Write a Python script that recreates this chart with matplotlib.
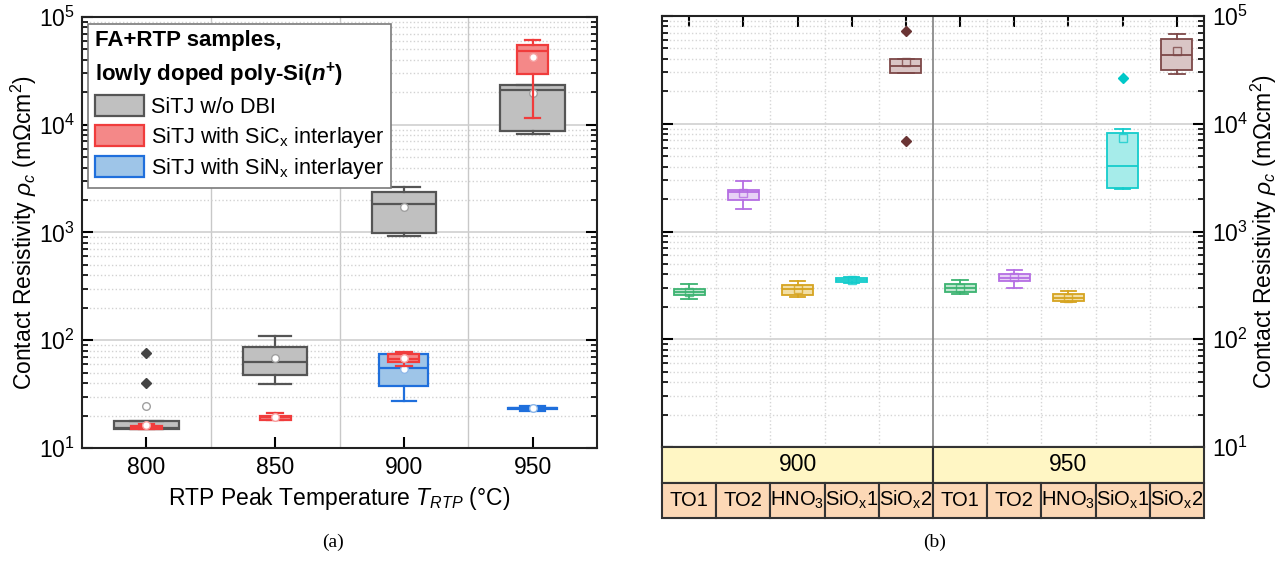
import matplotlib
matplotlib.use("Agg")
import matplotlib.pyplot as plt
import matplotlib.patches as mpatches
from matplotlib.ticker import LogLocator, NullFormatter

plt.rcParams['font.family'] = ['Liberation Sans', 'DejaVu Sans']
plt.rcParams['mathtext.fontset'] = 'custom'
plt.rcParams['mathtext.rm'] = 'Liberation Sans'
plt.rcParams['mathtext.it'] = 'Liberation Sans:italic'
plt.rcParams['mathtext.bf'] = 'Liberation Sans:bold'
plt.rcParams['mathtext.bfit'] = 'Liberation Sans:italic:bold'

# ---------------- data, panel (a) ----------------
temps = [800, 850, 900, 950]

# SiTJ w/o DBI
ref_q1 = [15.1, 47.9, 995, 8670]
ref_med = [15.4, 62.8, 1830, 20900]
ref_q3 = [17.8, 86, 2380, 23550]
ref_lo = [15.1, 39.5, 928, 8140]
ref_hi = [17.8, 109, 2620, 23550]
ref_mean = [24.3, 68, 1725, 19600]
ref_out = [[39.8, 76], [], [], []]

# SiTJ with SiCx interlayer
sic_q1 = [15.0, 18.2, 62.4, 29400]
sic_med = [15.7, 19.3, 67, 48300]
sic_q3 = [16.0, 20.0, 75, 55300]
sic_lo = [15.0, 18.2, 58, 11550]
sic_hi = [16.6, 21.0, 78, 61100]
sic_mean = [16.2, 19.2, 69, 42300]

# SiTJ with SiNx interlayer
sin_temps = [900, 950]
sin_q1 = [37.6, 22.9]
sin_med = [55.3, 23.3]
sin_q3 = [74, 23.7]
sin_lo = [27.1, 22.2]
sin_hi = [75, 24.7]
sin_mean = [54, 23.3]

# ---------------- data, panel (b) ----------------
groups = ["900", "950"]
treatments = ["TO1", "TO2", "HNO$_3$", r"SiO$_\mathrm{x}$1", r"SiO$_\mathrm{x}$2"]
b_q1 = [257, 1950, 259, 338, 29800, 276, 345, 225, 2530, 31700]
b_med = [275, 2340, 291, 354, 34400, 300, 373, 241, 4030, 43800]
b_q3 = [294, 2440, 319, 370, 39900, 326, 406, 261, 8260, 60800]
b_lo = [236, 1630, 247, 333, 29800, 261, 301, 220, 2470, 28950]
b_hi = [326, 2960, 347, 375, 39900, 352, 440, 282, 8930, 68100]
b_mean = [277, 2300, 290, 354, 37200, 300, 375, 241, 7380, 47000]
b_out = [[], [], [], [], [6920, 72100], [], [], [], [26600], []]

edge_cols = ["#3cb371", "#b56ee3", "#d6a420", "#14cccc", "#7d4848"]
face_cols = ["#bfe6cf", "#e7d2f6", "#f2dfa6", "#a6ecea", "#d9c5c5"]
flier_cols = ["#3cb371", "#b56ee3", "#d6a420", "#00c8c8", "#6a3434"]


def make_stats(q1, med, q3, lo, hi, mean, out=None):
    stats = []
    for i in range(len(q1)):
        stats.append(dict(q1=q1[i], med=med[i], q3=q3[i], whislo=lo[i],
                          whishi=hi[i], mean=mean[i],
                          fliers=out[i] if out else []))
    return stats


def draw_boxes(ax, stats, pos, width, edge, face, lw, z, meanmarker, meanedge,
               flier='#444444'):
    return ax.bxp(stats, positions=pos, widths=width, capwidths=width * 0.5,
                  patch_artist=True, showmeans=True, manage_ticks=False, zorder=z,
                  boxprops=dict(facecolor=face, edgecolor=edge, linewidth=lw),
                  medianprops=dict(color=edge, linewidth=lw),
                  whiskerprops=dict(color=edge, linewidth=lw),
                  capprops=dict(color=edge, linewidth=lw),
                  meanprops=dict(marker=meanmarker, markerfacecolor='white',
                                 markeredgecolor=meanedge, markersize=5.5,
                                 markeredgewidth=1.0),
                  flierprops=dict(marker='D', markerfacecolor=flier,
                                  markeredgecolor=flier, markersize=5.5))


fig = plt.figure(figsize=(12.8, 5.63), dpi=100)
ax1 = fig.add_axes([0.0641, 0.2043, 0.4023, 0.7655])
ax2 = fig.add_axes([0.5172, 0.2060, 0.4234, 0.7655])
tax = fig.add_axes([0.5172, 0.0799, 0.4234, 0.1261])

tick_fs = 16.5

# ---------------- panel (a) ----------------
ax1.set_yscale('log')
draw_boxes(ax1, make_stats(ref_q1, ref_med, ref_q3, ref_lo, ref_hi, ref_mean, ref_out),
           temps, 25, '#555555', '#c0c0c0', 1.6, 2, 'o', '#a0a0a0')
draw_boxes(ax1, make_stats(sin_q1, sin_med, sin_q3, sin_lo, sin_hi, sin_mean),
           sin_temps, 19, '#1f6fdc', '#9ec5e8', 1.6, 3, 'o', '#8fb8e8')
draw_boxes(ax1, make_stats(sic_q1, sic_med, sic_q3, sic_lo, sic_hi, sic_mean),
           temps, 12, '#f03c3c', '#f48888', 1.6, 4, 'o', '#f6a0a0')

ax1.set_xlim(775, 975)
ax1.set_ylim(10, 1e5)
ax1.set_xticks(temps)
ax1.set_xticks([825, 875, 925], minor=True)
ax1.yaxis.set_minor_locator(LogLocator(base=10, subs=range(2, 10)))
ax1.yaxis.set_minor_formatter(NullFormatter())
ax1.set_axisbelow(True)
ax1.yaxis.grid(True, which='major', color='#cfcfcf', lw=1.2, ls='-')
ax1.yaxis.grid(True, which='minor', color='#d2d2d2', lw=1.0, ls=':')
ax1.xaxis.grid(True, which='minor', color='#c8c8c8', lw=1.0, ls='-')
ax1.tick_params(axis='x', which='minor', length=0)
ax1.tick_params(axis='x', which='major', direction='in', length=8, width=1.5,
                labelsize=tick_fs, pad=6)
ax1.tick_params(axis='y', which='both', direction='in', left=True, right=True,
                labelsize=tick_fs, pad=5)
ax1.tick_params(axis='y', which='major', length=8, width=1.5)
ax1.tick_params(axis='y', which='minor', length=4.5, width=1.2)
for s in ax1.spines.values():
    s.set_linewidth(1.5)
    s.set_color('#222222')
ax1.set_xlabel(r"RTP Peak Temperature $T_{RTP}$ (°C)", fontsize=tick_fs, labelpad=4)
ax1.set_ylabel(r"Contact Resistivity $\rho_c$ (m$\Omega$cm$^2$)", fontsize=tick_fs,
               labelpad=0)

handles = [
    mpatches.Patch(facecolor='#c0c0c0', edgecolor='#555555', lw=1.6, label="SiTJ w/o DBI"),
    mpatches.Patch(facecolor='#f48888', edgecolor='#f03c3c', lw=1.6,
                   label=r"SiTJ with SiC$_\mathrm{x}$ interlayer"),
    mpatches.Patch(facecolor='#9ec5e8', edgecolor='#1f6fdc', lw=1.6,
                   label=r"SiTJ with SiN$_\mathrm{x}$ interlayer"),
]
leg = ax1.legend(handles=handles, loc='upper left', bbox_to_anchor=(0.0117, 0.984),
                 borderaxespad=0, fontsize=15.6, handlelength=2.3, handleheight=1.1,
                 labelspacing=0.3, handletextpad=0.3, borderpad=0.3,
                 fancybox=False, framealpha=1, edgecolor='#7a7a7a',
                 title="FA+RTP samples,\nlowly doped poly-Si($\\mathbfit{n}^{\\mathbf{+}}$)",
                 title_fontproperties=dict(weight='bold', size=16),
                 alignment='left')
leg.get_frame().set_linewidth(1.2)
leg.get_title().set_linespacing(1.45)
leg.set_zorder(10)

# ---------------- panel (b) ----------------
ax2.set_yscale('log')
n_tr = len(treatments)
for i in range(len(b_q1)):
    k = i % n_tr
    st = make_stats(b_q1[i:i + 1], b_med[i:i + 1], b_q3[i:i + 1], b_lo[i:i + 1],
                    b_hi[i:i + 1], b_mean[i:i + 1], b_out[i:i + 1])
    res = draw_boxes(ax2, st, [i + 1], 0.57, edge_cols[k], face_cols[k], 1.3, 3, 's',
                     edge_cols[k], flier=flier_cols[k])
    for m in res['means']:
        m.set_markerfacecolor('none')
        m.set_alpha(0.8)

ax2.set_xlim(0.5, len(b_q1) + 0.5)
ax2.set_ylim(10, 1e5)
ax2.set_xticks(range(1, len(b_q1) + 1))
ax2.set_xticks([j + 0.5 for j in range(1, len(b_q1)) if j != n_tr], minor=True)
ax2.yaxis.set_minor_locator(LogLocator(base=10, subs=range(2, 10)))
ax2.yaxis.set_minor_formatter(NullFormatter())
ax2.set_axisbelow(True)
ax2.yaxis.grid(True, which='major', color='#cfcfcf', lw=1.2, ls='-')
ax2.yaxis.grid(True, which='minor', color='#d6d6d6', lw=1.0, ls=':')
ax2.xaxis.grid(True, which='minor', color='#d6d6d6', lw=1.0, ls=':')
ax2.axvline(n_tr + 0.5, color='#8a8a8a', lw=1.3, zorder=1)
ax2.tick_params(axis='x', which='minor', length=0, bottom=False, top=False)
ax2.tick_params(axis='x', which='major', direction='in', length=8, width=1.5,
                top=True, bottom=False, labelbottom=False, labeltop=False)
ax2.yaxis.tick_right()
ax2.yaxis.set_label_position('right')
ax2.tick_params(axis='y', which='both', direction='in', left=True, right=True,
                labelleft=False, labelright=True, labelsize=tick_fs, pad=6)
ax2.tick_params(axis='y', which='major', length=8, width=1.5)
ax2.tick_params(axis='y', which='minor', length=4.5, width=1.2)
for s in ax2.spines.values():
    s.set_linewidth(1.5)
    s.set_color('#222222')
ax2.set_ylabel(r"Contact Resistivity $\rho_c$ (m$\Omega$cm$^2$)", fontsize=tick_fs)
ax2.yaxis.set_label_coords(1.083, 0.5)

# category table below panel (b)
tax.set_xlim(0.5, len(b_q1) + 0.5)
tax.set_ylim(0, 2)
tax.axis('off')
for g, name in enumerate(groups):
    x0 = g * n_tr + 0.5
    tax.add_patch(mpatches.Rectangle((x0, 1), n_tr, 1, facecolor='#fff6c4',
                                     edgecolor='#333333', lw=1.5, clip_on=False))
    tax.text(x0 + n_tr / 2, 1.5, name, ha='center', va='center', fontsize=tick_fs)
    for k, tr in enumerate(treatments):
        xc = g * n_tr + k + 1
        tax.add_patch(mpatches.Rectangle((xc - 0.5, 0), 1, 1, facecolor='#fcd8b6',
                                         edgecolor='#333333', lw=1.5, clip_on=False))
        tax.text(xc, 0.5, tr, ha='center', va='center', fontsize=14.5)

fig.text(0.260, 0.028, "(a)", family='Liberation Serif', fontsize=14, ha='center')
fig.text(0.730, 0.028, "(b)", family='Liberation Serif', fontsize=14, ha='center')

fig.savefig("out.png", dpi=100)
